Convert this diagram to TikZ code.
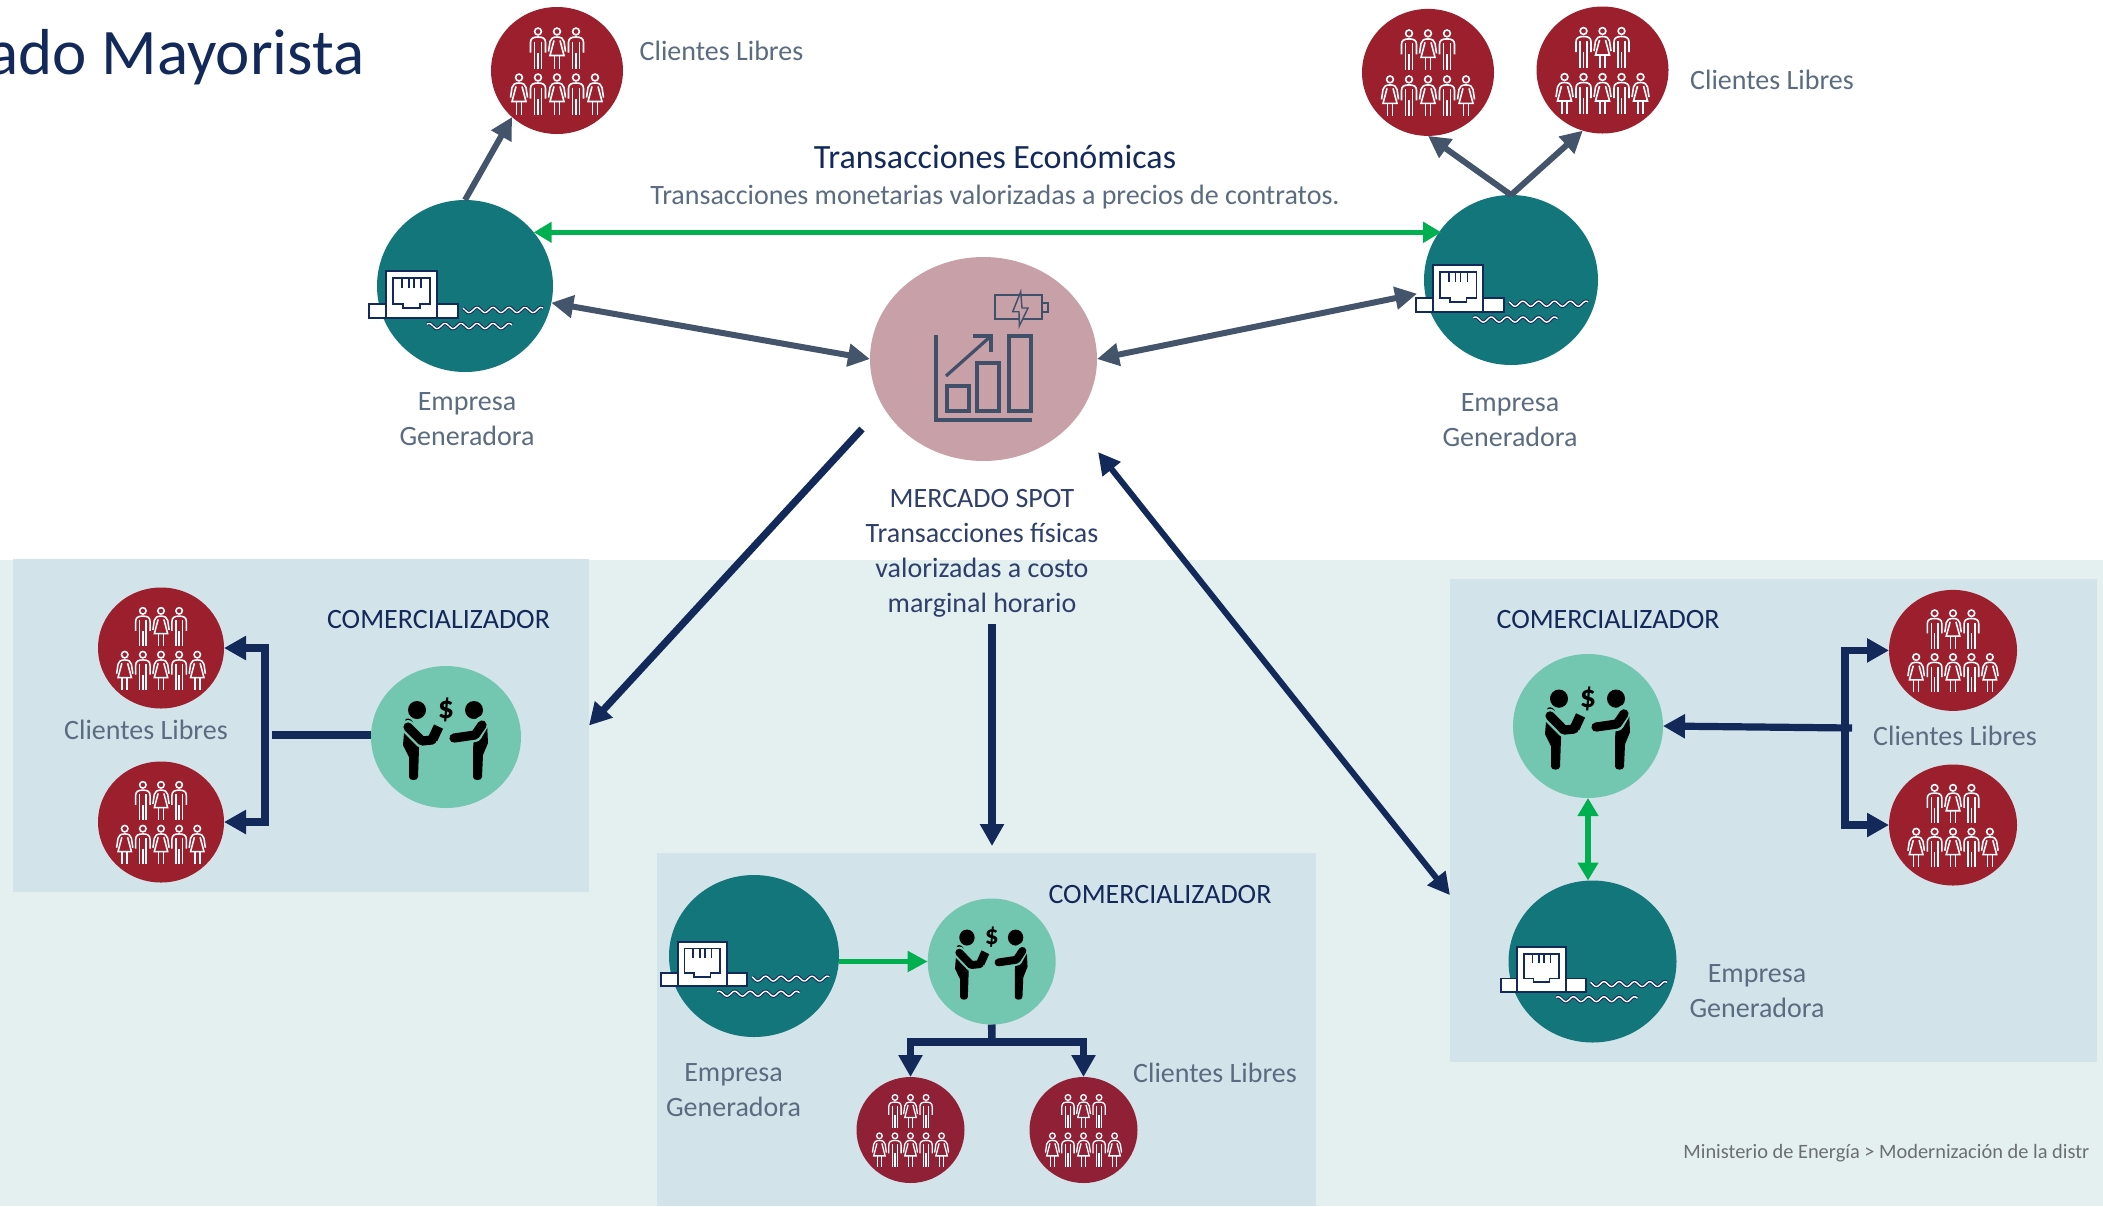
\documentclass[tikz,border=0pt]{standalone}
\usepackage{fontspec}
\setmainfont{Carlito}
\usetikzlibrary{shapes.geometric,arrows.meta}
\definecolor{navy}{HTML}{12295A}
\definecolor{slate}{HTML}{44546A}
\definecolor{lbl}{HTML}{5B6B80}
\definecolor{spotc}{HTML}{2E3F6B}
\definecolor{foot}{HTML}{6A6F72}
\definecolor{grn}{HTML}{00B050}
\definecolor{teal1}{HTML}{12767A}
\definecolor{red1}{HTML}{9B1F2D}
\definecolor{red2}{HTML}{8F2035}
\definecolor{pink1}{HTML}{C8A0A8}
\definecolor{mint}{HTML}{73C6B0}
\definecolor{band}{HTML}{E4F0F0}
\definecolor{boxc}{HTML}{D3E3EA}
\definecolor{iconc}{HTML}{3F5068}
\tikzset{
 disc/.style={ellipse,inner sep=0pt,outer sep=0pt,draw=none},
 panel/.style={rectangle,inner sep=0pt,outer sep=0pt,fill=boxc,anchor=north west},
 lab/.style={text=lbl,font=\fontsize{14}{17.5}\selectfont,align=center,inner sep=0pt},
 comer/.style={text=navy,font=\fontsize{14}{17}\selectfont,inner sep=0pt},
 grayarr/.style={draw=slate,line width=3pt,{Triangle[length=11pt,width=11pt]}-{Triangle[length=11pt,width=11pt]}},
 grayone/.style={draw=slate,line width=3pt,-{Triangle[length=11pt,width=11pt]}},
 navyarr/.style={draw=navy,line width=3.6pt,-{Triangle[length=11pt,width=11.5pt]}},
 navytwo/.style={draw=navy,line width=3pt,{Triangle[length=11pt,width=11pt]}-{Triangle[length=11pt,width=11pt]}},
 navyline/.style={draw=navy,line width=3.8pt},
 grnone/.style={draw=grn,line width=2.8pt,-{Triangle[length=10pt,width=10pt]}},
 grntwo/.style={draw=grn,line width=2.8pt,{Triangle[length=9pt,width=10pt]}-{Triangle[length=9pt,width=10pt]}},
}
% generator: name cx cy rx ry
\newcommand{\genicon}[5]{%
 \node[disc,fill=teal1,minimum width=#4pt,minimum height=#5pt] (#1) at (#2,#3) {};
 \begin{scope}[shift={(#2,#3)},xscale={#4/88},yscale={#5/86}]
  \draw[navy,line width=.9pt,fill=white] (-96,18) rectangle (-79,32);
  \draw[navy,line width=.9pt,fill=white] (-28,18) rectangle (-7,32);
  \draw[navy,line width=.9pt,fill=white] (-79,-15) rectangle (-28,32);
  \draw[navy,line width=.8pt] (-72,-8) -- (-35,-8) -- (-35,18) -- (-45,18) -- (-45,22) -- (-62,22) -- (-62,18) -- (-72,18) -- cycle;
  \foreach \p in {-63,-56,-51,-44} \draw[navy,line width=.8pt] (\p,-8) -- (\p,2);
  \draw[navy,line width=.5pt,double=white,double distance=.7pt] plot[domain=-2:78,samples=70,smooth] (\x,{24+2.6*sin(\x*22.5)});
  \draw[navy,line width=.5pt,double=white,double distance=.7pt] plot[domain=-38:47,samples=70,smooth] (\x,{40+2.6*sin(\x*22.5)});
 \end{scope}}
\newcommand{\personM}[2]{%
 \begin{scope}[shift={(#1,#2)}]
  \draw (0,0) circle (3.4);
  \draw (-7.5,21) -- (-7.5,11) .. controls (-7.5,7) and (-5,5.5) .. (0,5.5) .. controls (5,5.5) and (7.5,7) .. (7.5,11) -- (7.5,21);
  \draw (-3.4,10) -- (-3.4,37) (3.4,10) -- (3.4,37) (0,21) -- (0,37);
 \end{scope}}
\newcommand{\personF}[2]{%
 \begin{scope}[shift={(#1,#2)}]
  \draw (0,0) circle (3.4);
  \draw (-8.5,20) -- (-7,10) .. controls (-6.5,7) and (-4,5.5) .. (0,5.5) .. controls (4,5.5) and (6.5,7) .. (7,10) -- (8.5,20);
  \draw (-3,9) -- (-7,24) -- (7,24) -- (3,9);
  \draw (-2.6,24) -- (-2.6,37) (2.6,24) -- (2.6,37);
 \end{scope}}
% people: name cx cy rx ry colour
\newcommand{\crowd}[6]{%
 \node[disc,fill=#6,minimum width=#4pt,minimum height=#5pt] (#1) at (#2,#3) {};
 \begin{scope}[shift={(#2,#3)},xscale={#4/66},yscale={#5/63.5},white,line width={.8pt*#4/66}]
  \personM{-19}{-39}\personF{0}{-39}\personM{19}{-39}
  \personF{-38}{7}\personM{-19}{7}\personF{0}{7}\personM{19}{7}\personF{38}{7}
 \end{scope}}
% deal: name cx cy rx ry
\newcommand{\deal}[5]{%
 \node[disc,fill=mint,minimum width=#4pt,minimum height=#5pt] (#1) at (#2,#3) {};
 \pgfmathsetmacro{\ts}{#4/75}
 \begin{scope}[shift={(#2,#3)},xscale={#4/75},yscale={#5/71},line cap=round,line join=round]
  \fill[black] (-29,-27) circle (9);
  \fill[black] (28,-27) circle (9);
  \fill[black] (-41,-16) .. controls (-41,-20) and (-35,-19) .. (-33,-15) -- (-29,-5) -- (-27,12) -- (-28,40) .. controls (-28,44) and (-37,44) .. (-37,40) -- (-37,20) -- (-43,8) -- cycle;
  \fill[black] (41,-14) .. controls (40,-19) and (34,-20) .. (31,-14) -- (28,0) -- (27,12) -- (27,40) .. controls (27,44) and (36,44) .. (36,40) -- (37,18) -- (42,6) -- cycle;
  \draw[mint,line width={7pt*\ts}] (-38,-10) -- (-24,4) -- (-14,3);
  \draw[black,line width={4.6pt*\ts}] (-38,-10) -- (-24,4) -- (-14,3);
  \fill[black,rotate around={-25:(-10,-5)}] (-15,-11) rectangle (-5,3);
  \draw[mint,line width={7pt*\ts}] (36,-14) -- (29,-2) -- (8,1);
  \draw[black,line width={4.6pt*\ts}] (36,-12) -- (29,-2) -- (8,1);
  \node[scale=\ts,text=black,font=\fontsize{16}{16}\bfseries\selectfont,inner sep=0pt] at (0,-27) {\$};
 \end{scope}}
\begin{document}
\begin{tikzpicture}[x=.5pt,y=-.5pt]
\useasboundingbox (0,0) rectangle (2103,1206);
\fill[white] (0,0) rectangle (2103,1206);
\fill[band] (0,560) rectangle (2103,1206);
\node[panel,minimum width=288pt,minimum height=166.5pt] (lbox) at (13,559) {};
\node[panel,minimum width=329.5pt,minimum height=176.5pt] (cbox) at (657,853) {};
\node[panel,minimum width=323.5pt,minimum height=241.5pt] (rbox) at (1450,579) {};
% title
\node[anchor=base east,text=navy,font=\fontsize{32.5}{36}\selectfont,inner sep=0pt] (title) at (365,74) {cado Mayorista};
% icons
\genicon{g1}{465}{286}{88}{86}
\genicon{g2}{1511}{280}{87}{85}
\genicon{g3}{754}{956}{85}{81}
\genicon{g4}{1592.5}{961.5}{84}{81}
\crowd{p1}{557}{70.5}{66}{63.5}{red1}
\crowd{p2}{1428}{72.4}{66}{63.5}{red1}
\crowd{p3}{1602.5}{70}{66}{63.5}{red1}
\crowd{p4}{161}{648}{63}{60.5}{red1}
\crowd{p5}{161}{822}{63}{60.5}{red1}
\crowd{p6}{910.5}{1130}{54}{53}{red2}
\crowd{p7}{1083.5}{1130}{54}{53}{red2}
\crowd{p8}{1953}{650.4}{64}{60.5}{red1}
\crowd{p9}{1953}{825}{64}{60.5}{red1}
\deal{t1}{446}{737}{75}{71}
\deal{t2}{991.7}{961.5}{64}{63}
\deal{t3}{1588}{726}{75}{72}
% market
\node[disc,fill=pink1,minimum width=113.5pt,minimum height=102pt] (m) at (983.5,359) {};
\draw[iconc,line width=2pt] (936,335) -- (936,420) -- (1032,420);
\draw[iconc,line width=1.6pt] (947,386) rectangle (969,411);
\draw[iconc,line width=1.6pt] (977,363) rectangle (999,411);
\draw[iconc,line width=1.6pt] (1009,336) rectangle (1031,411);
\draw[iconc,line width=1.6pt] (946,376) -- (991,336);
\draw[iconc,line width=1.6pt] (973,336) -- (991,336) -- (991,352);
\draw[iconc,line width=.7pt] (995,295) rectangle (1042,319);
\draw[iconc,line width=.7pt] (1042,303) rectangle (1048,312);
\draw[iconc,line width=.7pt,fill=pink1] (1020.7,291.7) -- (1012.7,311.7) -- (1019,311.7) -- (1019.3,326) -- (1028,308) -- (1022,308) -- cycle;
% labels
\node[lab] (l1) at (721.5,51) {Clientes Libres};
\node[lab] (l2) at (1772,80) {Clientes Libres};
\node[lab] (l3) at (146,729.5) {Clientes Libres};
\node[lab] (l4) at (1955,736) {Clientes Libres};
\node[lab] (l5) at (1215,1073) {Clientes Libres};
\node[text=navy,font=\fontsize{17}{20}\selectfont,inner sep=0pt] (te) at (995,157) {Transacciones Económicas};
\node[lab] (tm) at (995,197) {Transacciones monetarias valorizadas a precios de contratos.};
\node[lab] (e1) at (467,419.5) {Empresa\\Generadora};
\node[lab] (e2) at (1510,420) {Empresa\\Generadora};
\node[lab] (e3) at (733.5,1090.5) {Empresa\\Generadora};
\node[lab] (e4) at (1757,991) {Empresa\\Generadora};
\node[lab,text=spotc] (spot) at (982,553) {MERCADO SPOT\\Transacciones físicas\\valorizadas a costo\\marginal horario};
\node[comer] (c1) at (438.5,619.5) {COMERCIALIZADOR};
\node[comer] (c2) at (1608,619.5) {COMERCIALIZADOR};
\node[comer] (c3) at (1160,894.5) {COMERCIALIZADOR};
\node[anchor=base west,text=foot,font=\fontsize{10.2}{12}\selectfont,inner sep=0pt] (ft) at (1683,1158) {Ministerio de Energía > Modernización de la distr};
% free ends
\coordinate (mL) at (862,429);
\coordinate (mD) at (992,624);
\coordinate (mR) at (1098,452);
\coordinate (lj) at (265,735);
\coordinate (ljs) at (272,735);
\coordinate (cj) at (992,1042);
\coordinate (rj) at (1845,727);
\coordinate (rjs) at (1852,728);
% connectors
\draw[grayone] (g1.north) -- (p1.226);
\draw[grayone] (g2.north) -- (p2.south);
\draw[grayone] (g2.north) -- (p3.252);
\draw[grntwo] (g1.38) -- (g1.38 -| g2.144);
\draw[grayarr] (g1.349) -- (m.west);
\draw[grayarr,shorten <=4pt] (g2.188) -- (m.east);
\draw[navyarr] (mL) -- (lbox.east);
\draw[navyarr,shorten >=3.5pt] (mD) -- (mD |- cbox.north);
\draw[navytwo] (mR) -- (rbox.193.7);
\draw[navyline] (ljs) -- (ljs -| t1.west);
\draw[navyarr] (lj |- p4.east) -- (p4.east);
\draw[navyarr] (lj |- p5.east) -- (p5.east);
\draw[navyline,line cap=rect] (lj |- p4.east) -- (lj |- p5.east);
\draw[grnone] (g3.east |- t2.west) -- (t2.west);
\draw[navyline] (t2.south) -- (cj);
\draw[navyarr] (cj) -| (p6.north);
\draw[navyarr] (cj) -| (p7.north);
\draw[navyarr] (rjs) -- (t3.east);
\draw[navyline,line cap=rect] (rj |- p8.west) -- (rj |- p9.west);
\draw[navyarr] (rj |- p8.west) -- (p8.west);
\draw[navyarr] (rj |- p9.west) -- (p9.west);
\draw[grntwo] (t3.south) -- (t3.south |- g4.north);
\end{tikzpicture}
\end{document}
